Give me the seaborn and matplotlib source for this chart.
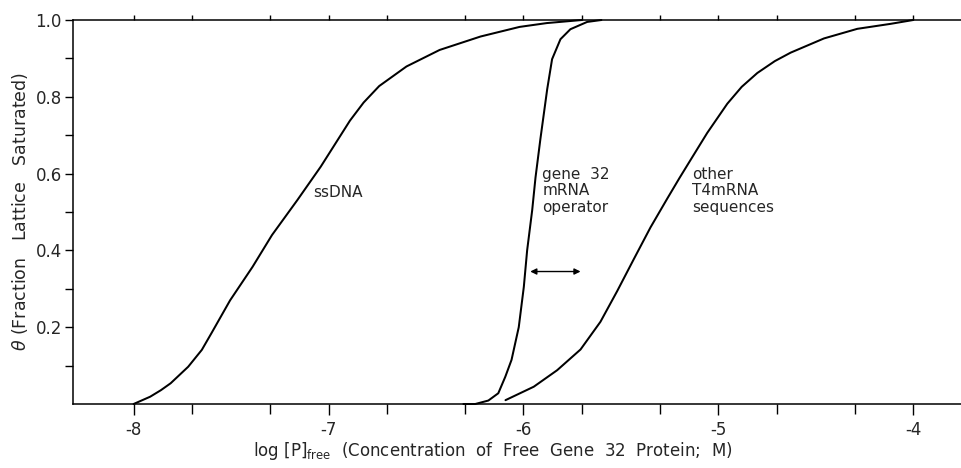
import numpy as np
import pandas as pd
import matplotlib
matplotlib.use("Agg")
import matplotlib.pyplot as plt
import seaborn as sns

# curve values: x = log[P]free, y = fraction saturated
ssdna_x = [-8.0, -7.915, -7.86, -7.81, -7.72, -7.65, -7.60, -7.505, -7.39, -7.29,
           -7.16, -7.04, -6.95, -6.89, -6.82, -6.74, -6.60, -6.43, -6.22, -6.02,
           -5.88, -5.70]
ssdna_y = [0.0, 0.019, 0.036, 0.054, 0.097, 0.141, 0.185, 0.27, 0.357, 0.440,
           0.531, 0.618, 0.690, 0.738, 0.785, 0.828, 0.879, 0.922, 0.957, 0.982,
           0.992, 1.0]

gene32_x = [-6.308, -6.247, -6.18, -6.129, -6.093, -6.061, -6.024, -5.998, -5.981,
            -5.955, -5.938, -5.913, -5.878, -5.853, -5.81, -5.759, -5.673, -5.60]
gene32_y = [0.0, 0.0, 0.009, 0.028, 0.071, 0.115, 0.2, 0.305, 0.40,
            0.505, 0.59, 0.69, 0.82, 0.898, 0.95, 0.976, 0.995, 1.0]

other_x = [-6.092, -5.947, -5.827, -5.707, -5.605, -5.519, -5.434, -5.348, -5.262,
           -5.20, -5.142, -5.057, -4.954, -4.88, -4.80, -4.71, -4.629, -4.458,
           -4.287, -4.116, -4.0]
other_y = [0.010, 0.045, 0.088, 0.142, 0.214, 0.294, 0.377, 0.460, 0.535,
           0.588, 0.636, 0.706, 0.782, 0.826, 0.862, 0.893, 0.915, 0.952,
           0.977, 0.990, 1.0]

x_major = [-8, -7, -6, -5, -4]
y_major = [0.2, 0.4, 0.6, 0.8, 1.0]
y_minor = [0.1, 0.3, 0.5, 0.7, 0.9]

df = pd.concat([
    pd.DataFrame({"x": ssdna_x, "y": ssdna_y, "curve": "ssDNA"}),
    pd.DataFrame({"x": gene32_x, "y": gene32_y, "curve": "gene32"}),
    pd.DataFrame({"x": other_x, "y": other_y, "curve": "other"}),
])

sns.set_style("ticks")
plt.rcParams["font.family"] = ["DejaVu Sans"]
plt.rcParams["mathtext.fontset"] = "dejavusans"

fig = plt.figure(figsize=(9.61, 4.68), dpi=100)
ax = fig.add_axes([73 / 961, 64 / 468, 888 / 961, 384 / 468])

sns.lineplot(data=df, x="x", y="y", hue="curve", units="curve", estimator=None,
             sort=False, palette=["black"] * 3, linewidth=1.45, legend=False,
             ax=ax, clip_on=False)
for ln in ax.lines:
    ln.set_solid_joinstyle("round")

xlim = (-8.311, -3.755)

ax.set_xticks(x_major)
ax.set_xticklabels([str(v) for v in x_major])
# minor ticks at 2x and 5x in each decade
minor = []
for d in range(-8, -3):
    minor += [d + np.log10(2), d + np.log10(5)]
minor = [m for m in minor if xlim[0] < m < xlim[1]]
ax.set_xticks(minor, minor=True)
ax.set_yticks(y_major)
ax.set_yticklabels([f"{v:.1f}" for v in y_major])
ax.set_yticks(y_minor, minor=True)
ax.set_xlim(*xlim)
ax.set_ylim(0, 1.0)

for side in ["left", "top", "bottom"]:
    ax.spines[side].set_color("black")
    ax.spines[side].set_linewidth(1.1)
ax.spines["right"].set_visible(False)

ax.tick_params(axis="x", which="both", direction="out", color="black",
               width=1.0, labelsize=12, pad=4.5)
ax.tick_params(axis="x", which="major", length=8)
ax.tick_params(axis="x", which="minor", length=7)
ax.tick_params(axis="y", which="both", direction="out", length=6, width=1.0,
               labelsize=12, color="black", pad=2)

# short ticks along the top edge
top = ax.secondary_xaxis("top")
top.set_xticks(x_major + minor)
top.set_xticklabels([])
top.tick_params(direction="out", length=3.5, width=1.0, color="black")
top.spines["top"].set_visible(False)

ax.set_xlabel(r"log $[\mathrm{P}]_{\mathrm{free}}$  (Concentration  of  Free  Gene  32  Protein;  M)",
              fontsize=12, va="center")
ax.xaxis.set_label_coords(0.473, -0.122)
ax.set_ylabel(r"$\theta$ (Fraction   Lattice   Saturated)", fontsize=12.5, va="center")
ax.yaxis.set_label_coords(-0.06, 0.5)

ax.text(-7.079, 0.552, "ssDNA", fontsize=11, va="center", ha="left")
ax.text(-5.904, 0.555, "gene  32\nmRNA\noperator", fontsize=11, va="center",
        ha="left", linespacing=1.1)
ax.text(-5.134, 0.555, "other\nT4mRNA\nsequences", fontsize=11, va="center",
        ha="left", linespacing=1.1)

ax.annotate("", xy=(-5.707, 0.345), xytext=(-5.965, 0.345),
            arrowprops=dict(arrowstyle="<|-|>", color="black", lw=1.0,
                            mutation_scale=9, shrinkA=0, shrinkB=0))

fig.savefig("out.png", dpi=100, facecolor="white")
